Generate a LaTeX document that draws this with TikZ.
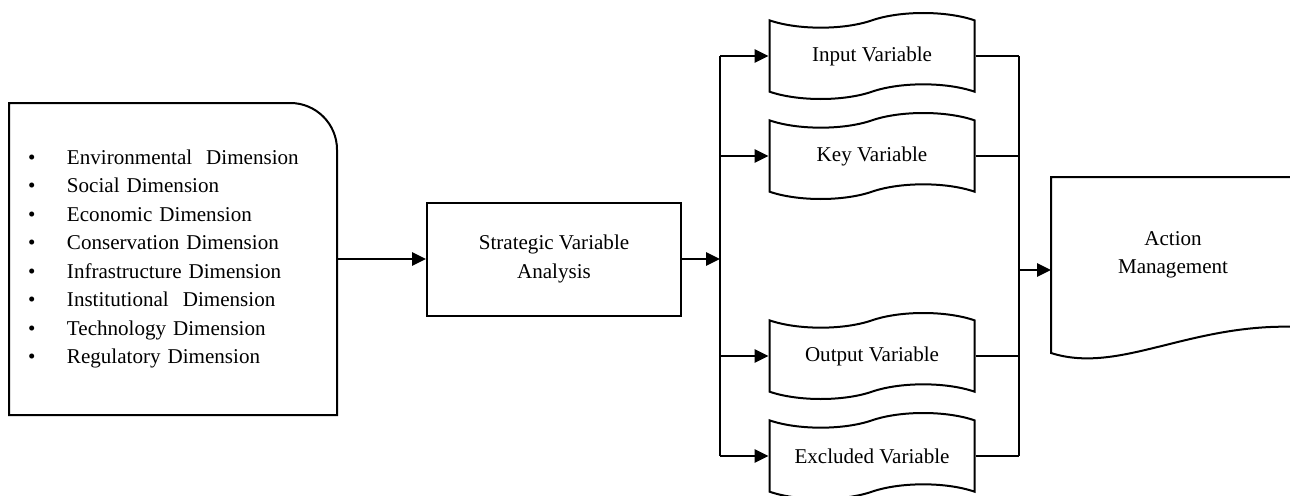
\documentclass[tikz,border=0pt]{standalone}
\usepackage{fontspec}
\setmainfont{Liberation Serif}
\usetikzlibrary{arrows.meta, positioning, shapes.symbols}

\begin{document}
\begin{tikzpicture}[
    x=0.75pt, y=-0.75pt,
    font=\fontsize{15.8pt}{21.4pt}\selectfont,
    line width=1.5pt,
    box/.style={draw, minimum width=190.5pt, minimum height=84.75pt, align=center},
    listbox/.style={minimum width=244.5pt, minimum height=232.5pt,
                    text width=217.5pt, inner xsep=13.5pt, align=left},
    tapebox/.style={tape, draw, tape bend top=in and out, tape bend bottom=in and out,
                    tape bend height=11pt, minimum width=153.75pt,
                    minimum height=64.5pt, align=center},
    docbox/.style={minimum width=181.5pt, minimum height=115.5pt, align=center},
    arr/.style={-{Triangle[length=10.5pt, width=10pt]}}
]
\useasboundingbox (0,0) rectangle (1290,496);

%% ---- dimensions and analysis -----------------------------------
\node[listbox] (dims) at (173,259) {%
    \makebox[29.25pt][l]{\textbullet}Environmental\ \ Dimension\\
    \makebox[29.25pt][l]{\textbullet}Social Dimension\\
    \makebox[29.25pt][l]{\textbullet}Economic Dimension\\
    \makebox[29.25pt][l]{\textbullet}Conservation Dimension\\
    \makebox[29.25pt][l]{\textbullet}Infrastructure Dimension\\
    \makebox[29.25pt][l]{\textbullet}Institutional\ \ Dimension\\
    \makebox[29.25pt][l]{\textbullet}Technology Dimension\\
    \makebox[29.25pt][l]{\textbullet}Regulatory Dimension};
\node[box, right=66.75pt of dims] (sva) {Strategic Variable\\Analysis};

\draw (dims.south west) -- (dims.north west) -- ([xshift=-35pt]dims.north east)
      arc[start angle=90, end angle=0, radius=35pt] -- (dims.south east) -- cycle;
\draw[arr] (dims.east) -- (sva.west);

%% ---- variables (tapes) -----------------------------------------
\node[tapebox] (input) at (872,56)  {Input Variable};
\node[tapebox] (key)   at (872,156) {Key Variable};
\node[tapebox] (output) at (872,356) {Output Variable};
\node[tapebox] (excl)  at (872,456) {Excluded Variable};

\coordinate (lbus) at (720,259);
\coordinate (rbus) at (1019,270);

\draw[arr] (sva.east) -- (lbus);
\draw (lbus |- input.west) -- (lbus |- excl.west);
\draw (rbus |- input.east) -- (rbus |- excl.east);
\foreach \v in {input, key, output, excl} {
    \draw[arr] (lbus |- \v.west) -- (\v.west);
    \draw (\v.east) -- (rbus |- \v.east);
}

%% ---- action management -----------------------------------------
\node[docbox] (action) at (1173,255) {Action\\Management};
\draw (1300,177) -- (action.north west) -- (action.north west |- 0,353)
      .. controls (1120,375) and (1190,322) .. (1300,327);
\draw[arr] (rbus) -- (rbus -| action.west);

\end{tikzpicture}
\end{document}
